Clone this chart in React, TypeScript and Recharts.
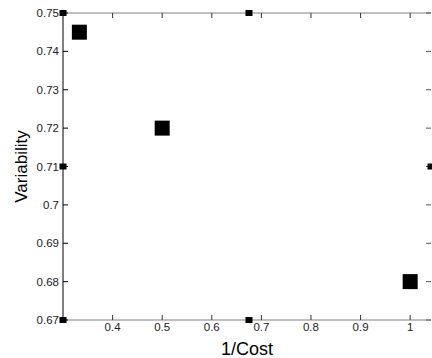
import React from 'react';
import {
  ScatterChart,
  Scatter,
  XAxis,
  YAxis,
} from 'recharts';

// 1/Cost vs Variability (large markers)
const costInv = [0.333, 0.5, 1.0];
const variability = [0.745, 0.72, 0.68];

// small marks sitting on the axes
const markX = [0.3, 0.3, 0.3, 0.675, 0.675, 1.042];
const markY = [0.75, 0.71, 0.67, 0.75, 0.67, 0.71];

const xTicks = [0.4, 0.5, 0.6, 0.7, 0.8, 0.9, 1];
const yTicks = [0.67, 0.68, 0.69, 0.7, 0.71, 0.72, 0.73, 0.74, 0.75];

const points = costInv.map((x, i) => ({ x, y: variability[i] }));
const marks = markX.map((x, i) => ({ x, y: markY[i] }));

const font = '"Liberation Sans", Arial, sans-serif';
const tickStyle = { fill: '#222', fontSize: 11.5, fontFamily: font };
const fmt = (v: number) => String(Number(v.toFixed(2)));

const BigSquare = (props: any) => {
  const { cx, cy } = props;
  return <rect x={cx - 7.5} y={cy - 7.5} width={15} height={15} fill="#000" />;
};

const SmallSquare = (props: any) => {
  const { cx, cy } = props;
  return <rect x={cx - 3.5} y={cy - 3} width={7} height={6} fill="#000" />;
};

export default function App() {
  return (
    <div style={{ position: 'absolute', left: 0, top: 0, background: '#fff' }}>
      <ScatterChart width={432} height={358} margin={{ top: 0, right: 0, bottom: 0, left: 0 }}>
        <XAxis
          type="number"
          dataKey="x"
          domain={[0.3, 1.042]}
          ticks={xTicks}
          tickFormatter={fmt}
          height={38}
          stroke="#808080"
          tickLine={{ stroke: '#333' }}
          tickSize={-5}
          tickMargin={8}
          tick={tickStyle}
          label={{ value: '1/Cost', position: 'insideBottom', offset: 3, style: { fill: '#000', fontSize: 18, fontFamily: font } }}
        />
        <XAxis
          xAxisId="top"
          orientation="top"
          type="number"
          dataKey="x"
          domain={[0.3, 1.042]}
          ticks={xTicks}
          tickFormatter={() => ''}
          height={13}
          stroke="#808080"
          tickLine={{ stroke: '#333' }}
          tickSize={-5}
        />
        <YAxis
          type="number"
          dataKey="y"
          domain={[0.67, 0.75]}
          ticks={yTicks}
          tickFormatter={fmt}
          width={63}
          stroke="#000"
          tickSize={-5}
          tickMargin={9}
          tick={tickStyle}
          label={{ value: 'Variability', angle: -90, position: 'insideLeft', offset: 21, style: { fill: '#000', fontSize: 17, fontFamily: font, textAnchor: 'middle' } }}
        />
        <YAxis
          yAxisId="right"
          orientation="right"
          type="number"
          dataKey="y"
          domain={[0.67, 0.75]}
          ticks={yTicks}
          tickFormatter={() => ''}
          width={1}
          axisLine={false}
          stroke="#808080"
          tickLine={{ stroke: '#555' }}
          tickSize={-5}
        />
        <Scatter data={points} shape={<BigSquare />} isAnimationActive={false} />
        <Scatter data={marks} xAxisId="top" yAxisId="right" shape={<SmallSquare />} isAnimationActive={false} />
      </ScatterChart>
    </div>
  );
}
